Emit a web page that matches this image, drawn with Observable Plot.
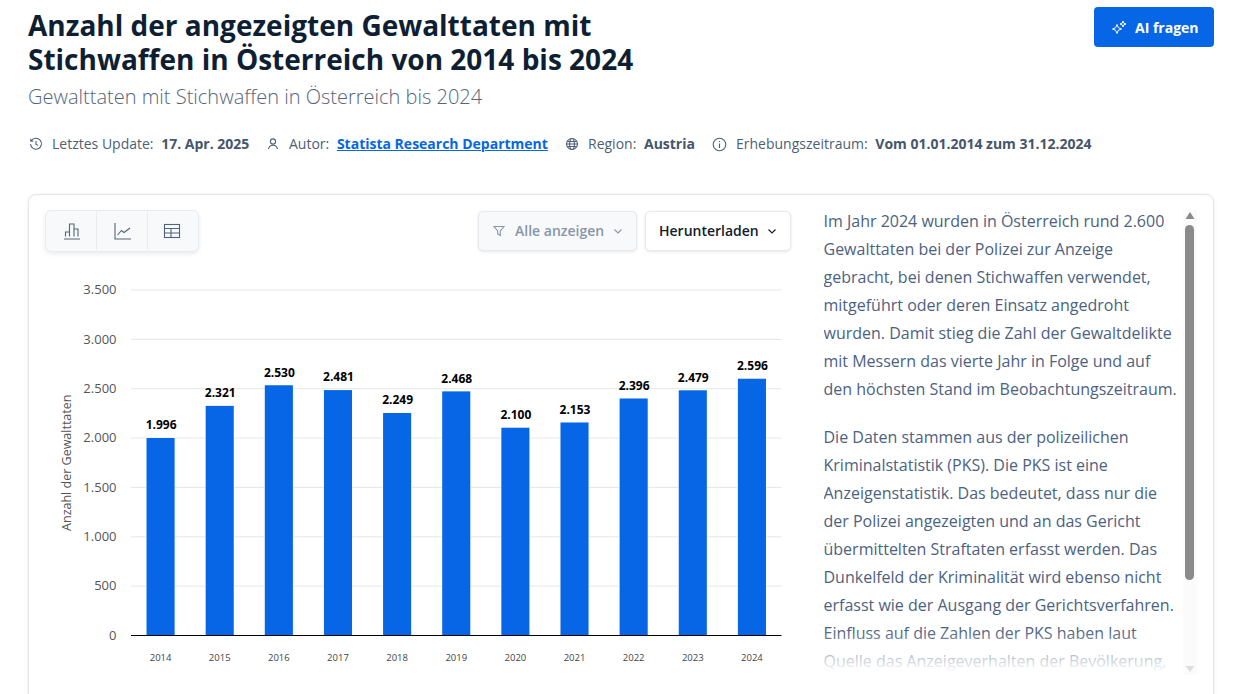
<!DOCTYPE html>
<html lang="de">
<head>
<meta charset="utf-8">
<script src="https://cdn.jsdelivr.net/npm/d3@7"></script>
<script src="https://cdn.jsdelivr.net/npm/@observablehq/plot@0.6"></script>
<style>
html,body{margin:0;padding:0;background:#fff;width:1240px;height:694px;overflow:hidden;font-family:"Open Sans","Noto Sans",sans-serif}
.a{position:absolute;white-space:nowrap}
h1{margin:0;left:28px;top:8px;font-size:28px;line-height:34px;font-weight:700;color:#0f1f33}
#sub{left:28px;top:83px;font-size:20px;line-height:28px;font-weight:300;color:#55657a}
.meta{top:135px;font-size:14px;line-height:18px;color:#4d5f75}
.meta b{color:#45566c;font-weight:700}
.meta a{color:#0666e5;font-weight:700;text-decoration:underline}
.ic{position:absolute;fill:none;stroke:#4d5f75;stroke-width:1.1}
#ai{left:1094px;top:7px;width:120px;height:40px;background:#0666e5;border-radius:4px;color:#fff;font-size:14px;font-weight:700;line-height:41px;text-indent:41px}
#card{left:28px;top:194px;width:1184px;height:540px;border:1px solid #e2e4e6;border-radius:8px;box-shadow:0 1px 5px rgba(0,0,0,.06);background:#fff}
#tabs{left:45px;top:210px;width:152px;height:40px;background:#f7f9fb;border:1px solid #e9ecef;border-radius:6px;box-shadow:0 2px 4px rgba(0,0,0,.08)}
.btn{top:211px;height:38px;border:1px solid #e6e9ed;border-radius:5px;box-shadow:0 1px 3px rgba(0,0,0,.1);font-size:14px;line-height:38px;font-weight:600}
#filter{left:478px;width:157px;background:#f7f9fb;color:#8896a8;text-indent:36px}
#down{left:645px;width:144px;background:#fff;color:#111c2b;text-indent:13px}
#txt{left:823.5px;top:207px;width:358px;height:470px;overflow:hidden;white-space:normal;font-size:16px;line-height:28px;color:#4c6280}
#txt p{margin:0 0 20px 0;white-space:nowrap}
#fade{left:820px;top:630px;width:362px;height:50px;background:linear-gradient(rgba(255,255,255,0),#fff 85%)}
#track{left:1183px;top:210px;width:14px;height:465px;background:#fbfbfb}
#thumb{left:1185px;top:225px;width:9px;height:355px;background:#8a8a8a;border-radius:5px}
#chart{left:45px;top:270px}
</style>
</head>
<body>
<h1 class="a">Anzahl der angezeigten Gewalttaten mit<br>Stichwaffen in Österreich von 2014 bis 2024</h1>
<div class="a" id="sub">Gewalttaten mit Stichwaffen in Österreich bis 2024</div>

<div class="a" id="ai">AI fragen</div>
<svg class="a" style="left:1111px;top:20px" width="16" height="15" viewBox="0 0 16 15" fill="none" stroke="#fff" stroke-width="1"><path d="M6 4.5 7.3 7.7 10.5 9 7.3 10.3 6 13.5 4.7 10.3 1.5 9 4.7 7.7Z"/><path d="M12 1 12.8 3.2 15 4 12.8 4.8 12 7 11.2 4.8 9 4 11.2 3.2Z"/></svg>

<svg class="ic" style="left:29px;top:137px" width="14" height="14" viewBox="0 0 14 14"><path d="M2.2 4A5.5 5.5 0 1 1 1.5 7M1.8 1.8V4.2H4.2M7 4V7.2L9 8.4"/></svg>
<div class="a meta" style="left:52px">Letztes Update: <b style="margin-left:4px">17. Apr. 2025</b></div>
<svg class="ic" style="left:266px;top:137px" width="14" height="14" viewBox="0 0 14 14"><circle cx="7" cy="4.5" r="2.6"/><path d="M2.5 12C3 9.3 4.7 8.2 7 8.2S11 9.3 11.5 12"/></svg>
<div class="a meta" style="left:289px">Autor: <a style="margin-left:4px">Statista Research Department</a></div>
<svg class="ic" style="left:565px;top:137px" width="14" height="14" viewBox="0 0 14 14"><circle cx="7" cy="7" r="5.5"/><ellipse cx="7" cy="7" rx="2.4" ry="5.5"/><path d="M1.5 7H12.5M2.3 4.5H11.7M2.3 9.5H11.7"/></svg>
<div class="a meta" style="left:588px">Region: <b style="margin-left:4px">Austria</b></div>
<svg class="ic" style="left:712px;top:137px" width="15" height="15" viewBox="0 0 15 15"><circle cx="7.5" cy="7.5" r="6.3"/><path d="M7.5 6.5V11M7.5 4V5"/></svg>
<div class="a meta" style="left:736px">Erhebungszeitraum: <b style="margin-left:4px">Vom 01.01.2014 zum 31.12.2024</b></div>

<div class="a" id="card"></div>
<div class="a" id="tabs"></div>
<div class="a" style="left:96px;top:211px;width:1px;height:39px;background:#e9ecef"></div>
<div class="a" style="left:147px;top:211px;width:1px;height:39px;background:#e9ecef"></div>
<svg class="ic" style="left:62px;top:221px;stroke:#52647a" width="20" height="20" viewBox="0 0 20 20"><path d="M2 18H18M3.5 15.5V11H7.5V15.5M7.5 15.5V3H12V15.5M12 15.5V8H16V15.5"/></svg>
<svg class="ic" style="left:113px;top:221px;stroke:#52647a" width="20" height="20" viewBox="0 0 20 20"><path d="M2 2V18H18M4.5 14 8.5 9.5 11 11.5 17 7"/></svg>
<svg class="ic" style="left:162px;top:221px;stroke:#52647a" width="20" height="20" viewBox="0 0 20 20"><rect x="2.5" y="3.5" width="15" height="13"/><path d="M2.5 7.5H17.5M2.5 12H17.5M9 7.5V16.5"/></svg>

<div class="a btn" id="filter">Alle anzeigen</div>
<svg class="ic" style="left:492px;top:224px;stroke:#8896a8" width="14" height="14" viewBox="0 0 14 14"><path d="M2 2.5H12L8.3 7V11.5L5.7 10V7Z"/></svg>
<svg class="ic" style="left:612px;top:226px;stroke:#8896a8" width="12" height="10" viewBox="0 0 12 10"><path d="M2.5 3.5 6 7 9.5 3.5"/></svg>
<div class="a btn" id="down">Herunterladen</div>
<svg class="ic" style="left:766px;top:226px;stroke:#111c2b" width="12" height="10" viewBox="0 0 12 10"><path d="M2.5 3.5 6 7 9.5 3.5"/></svg>

<div class="a" id="txt">
<p>Im Jahr 2024 wurden in Österreich rund 2.600<br>Gewalttaten bei der Polizei zur Anzeige<br>gebracht, bei denen Stichwaffen verwendet,<br>mitgeführt oder deren Einsatz angedroht<br>wurden. Damit stieg die Zahl der Gewaltdelikte<br>mit Messern das vierte Jahr in Folge und auf<br>den höchsten Stand im Beobachtungszeitraum.</p>
<p>Die Daten stammen aus der polizeilichen<br>Kriminalstatistik (PKS). Die PKS ist eine<br>Anzeigenstatistik. Das bedeutet, dass nur die<br>der Polizei angezeigten und an das Gericht<br>übermittelten Straftaten erfasst werden. Das<br>Dunkelfeld der Kriminalität wird ebenso nicht<br>erfasst wie der Ausgang der Gerichtsverfahren.<br>Einfluss auf die Zahlen der PKS haben laut<br>Quelle das Anzeigeverhalten der Bevölkerung,</p>
</div>
<div class="a" id="fade"></div>
<div class="a" id="track"></div>
<div class="a" id="thumb"></div>
<svg class="a" style="left:1184px;top:211px" width="12" height="9"><path d="M6 1 10.5 8H1.5Z" fill="#8a8a8a"/></svg>
<svg class="a" style="left:1184px;top:665px" width="12" height="8"><path d="M1.5 1H10.5L6 7Z" fill="#dedede"/></svg>

<div class="a" id="chart"></div>

<script>
const years = ["2014","2015","2016","2017","2018","2019","2020","2021","2022","2023","2024"];
const values = [1996,2321,2530,2481,2249,2468,2100,2153,2396,2479,2596];
const yTicks = [0,500,1000,1500,2000,2500,3000,3500];
const yTitle = "Anzahl der Gewalttaten";
const barColor = "#0666e5";

const rows = years.map((year,i)=>({year,value:values[i]}));
const de = d3.formatLocale({decimal:",",thousands:".",grouping:[3],currency:["","€"]});
const fmt = de.format(",d");

const plot = Plot.plot({
  width:760,height:400,
  marginLeft:86,marginRight:23.5,marginTop:19.5,marginBottom:35,
  style:{fontFamily:'"Open Sans","Noto Sans",sans-serif',background:"transparent",overflow:"visible"},
  x:{type:"band",domain:years,paddingInner:0.525,paddingOuter:0.2625,align:0.5,round:false,label:null},
  y:{domain:[0,3500],label:null},
  marks:[
    Plot.ruleY(yTicks.filter(d=>d>0),{stroke:"#e6e6e6",strokeWidth:1}),
    Plot.barY(rows,{x:"year",y:"value",fill:barColor,stroke:"#fff",strokeWidth:1,paintOrder:"stroke"}),
    Plot.ruleY([0],{stroke:"#000",strokeWidth:1.2}),
    Plot.axisY({ticks:yTicks,tickFormat:fmt,tickSize:0,tickPadding:15,fontSize:13,color:"#555",label:null,anchor:"left"}),
    Plot.axisX({tickSize:0,tickPadding:19,fontSize:9.5,color:"#444",label:null,dx:-0.5}),
    Plot.text([yTitle],{frameAnchor:"left",dx:-65,rotate:-90,fontSize:12.5,fill:"#555",dy:0,textAnchor:"middle"}),
    Plot.text(rows,{x:"year",y:"value",text:d=>fmt(d.value),dy:-13,fontSize:12,fontWeight:700,fill:"#000"})
  ]
});
document.getElementById("chart").appendChild(plot);
</script>
</body>
</html>
